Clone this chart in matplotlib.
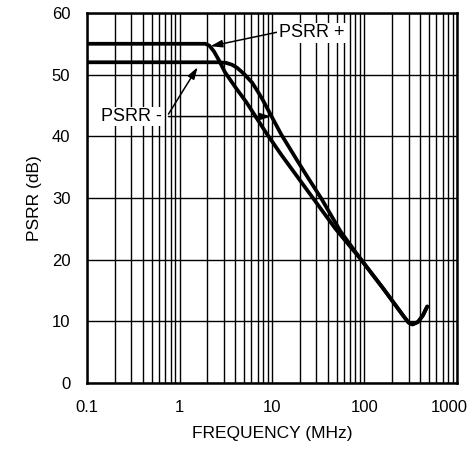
import matplotlib
matplotlib.use('Agg')
import matplotlib.pyplot as plt
import matplotlib.transforms as mtransforms
from matplotlib.ticker import LogLocator, NullFormatter

plt.rcParams['font.family'] = ['Liberation Sans', 'DejaVu Sans']

# PSRR+ curve (MHz, dB)
freq_pos = [0.1, 1, 1.9, 2.1, 2.35, 2.7, 3.1, 4.0, 5.3, 8.7, 12.9, 18.7,
            27.7, 48.6, 92, 160, 266, 300, 330, 380, 430, 477]
psrr_pos = [55, 55, 55, 54.7, 53.8, 52.2, 50.4, 48.0, 45.5, 40.5, 36.8, 33.5,
            30, 25, 20, 15.3, 10.8, 9.8, 9.5, 9.9, 11.0, 12.4]

# PSRR- curve
freq_neg = [0.1, 1, 2.6, 3.2, 3.7, 4.2, 5.0, 6.1, 7.0, 7.95, 10, 12.6, 18.7, 24,
            34.2, 55, 92, 160, 266, 300, 330, 380, 430, 477]
psrr_neg = [52, 52, 52, 51.9, 51.6, 51.1, 50.1, 48.7, 47.3, 45.9, 43.1, 40.3, 36.1, 33.5,
            29.9, 24.6, 20, 15.3, 10.8, 9.8, 9.5, 9.9, 11.0, 12.4]

xticks = [0.1, 1, 10, 100, 1000]
xtick_labels = ['0.1', '1', '10', '100', '1000']
yticks = [0, 10, 20, 30, 40, 50, 60]

fig = plt.figure(figsize=(4.73, 4.62), dpi=100)
ax = fig.add_axes([0.184, 0.171, 0.782, 0.801])

ax.plot(freq_pos, psrr_pos, color='black', lw=2.7, solid_capstyle='round')
ax.plot(freq_neg, psrr_neg, color='black', lw=2.7, solid_capstyle='round')

ax.set_xscale('log')
ax.set_xlim(0.1, 1000)
ax.set_ylim(0, 60)
ax.set_xticks(xticks, labels=xtick_labels)
ax.set_yticks(yticks)
ax.xaxis.set_minor_locator(LogLocator(base=10, subs=range(2, 10)))
ax.xaxis.set_minor_formatter(NullFormatter())
ax.grid(True, which='both', axis='x', color='black', lw=1.0)
ax.grid(True, which='major', axis='y', color='black', lw=1.0)
ax.tick_params(which='both', length=0, labelsize=12, pad=12)

# last label sits a bit left of its tick, like the original
lbl = ax.get_xticklabels()[-1]
lbl.set_transform(lbl.get_transform() +
                  mtransforms.ScaledTranslation(-8 / 100, 0, fig.dpi_scale_trans))

for s in ax.spines.values():
    s.set_linewidth(1.8)

ax.set_xlabel('FREQUENCY (MHz)', fontsize=12.5, labelpad=8)
ax.set_ylabel('PSRR (dB)', fontsize=12.5, labelpad=7)

arrow = dict(arrowstyle='-|>,head_length=0.7,head_width=0.22', color='black', lw=1.1,
             shrinkA=0, shrinkB=0)
ax.annotate('', xy=(2.16, 54.6), xytext=(11.6, 56.9), arrowprops=arrow)
ax.annotate('', xy=(1.57, 51.2), xytext=(0.76, 43.6), arrowprops=arrow)
ax.annotate('', xy=(9.8, 43.2), xytext=(0.76, 43.2), arrowprops=arrow)

ax.text(11.8, 56.8, 'PSRR +', fontsize=13, va='center', ha='left',
        bbox=dict(facecolor='white', edgecolor='none', pad=1))
ax.text(0.14, 43.2, 'PSRR -', fontsize=13, va='center', ha='left',
        bbox=dict(facecolor='white', edgecolor='none', pad=1))

fig.savefig('out.png', dpi=100)
